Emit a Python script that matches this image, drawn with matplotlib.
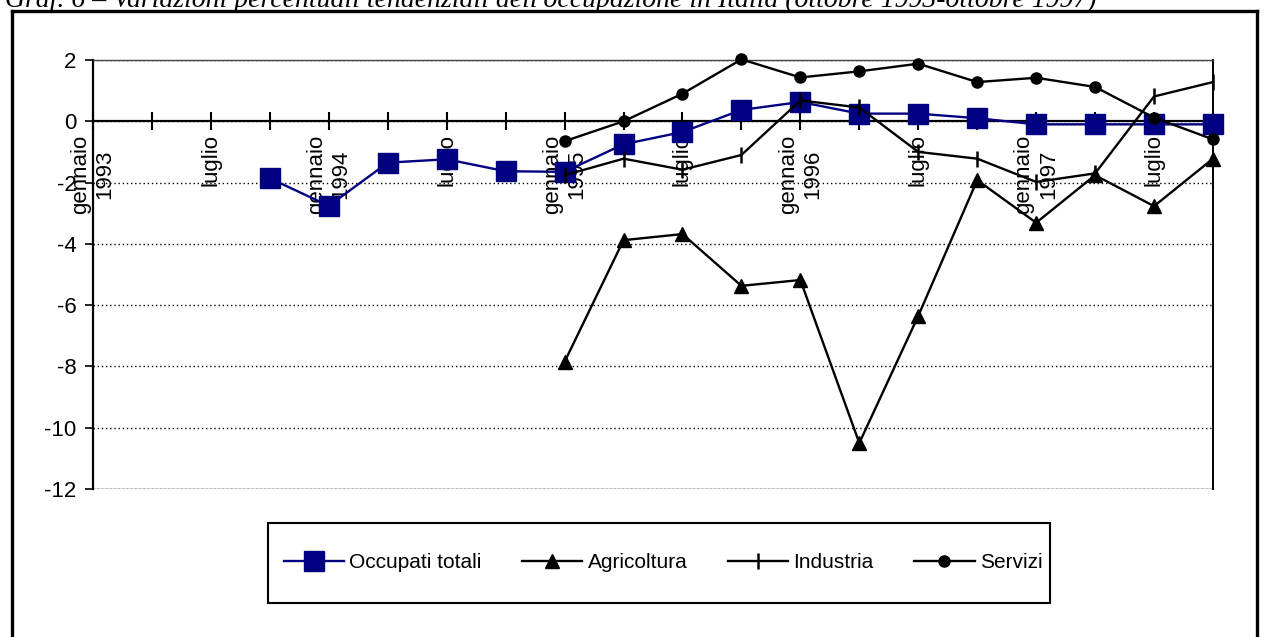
"""
Variazioni percentuali tendenziali dell'occupazione in Italia
(ottobre 1993 - ottobre 1997), dati trimestrali
"""

import numpy as np
import matplotlib
matplotlib.use("Agg")
import matplotlib.pyplot as plt
from matplotlib.lines import Line2D
from matplotlib.patches import Rectangle


# ── Dati ─────────────────────────────────────────────────────────────────────
# un valore per trimestre: gennaio 1993 ... ottobre 1997
trimestri = ["gennaio\n1993", "", "luglio", "",
             "gennaio\n1994", "", "luglio", "",
             "gennaio\n1995", "", "luglio", "",
             "gennaio\n1996", "", "luglio", "",
             "gennaio\n1997", "", "luglio", ""]

nan = np.nan
occupati_totali = [nan, nan, nan, -1.86, -2.76, -1.35, -1.24, -1.63,
                   -1.65, -0.75, -0.35, 0.37, 0.63, 0.25, 0.25, 0.1,
                   -0.1, -0.1, -0.1, -0.1]
agricoltura = [nan] * 8 + [-7.85, -3.88, -3.68, -5.37, -5.18, -10.5,
                           -6.35, -1.92, -3.31, -1.76, -2.77, -1.22]
industria = [nan] * 8 + [-1.76, -1.22, -1.58, -1.1, 0.68, 0.45,
                         -1.0, -1.22, -1.98, -1.7, 0.81, 1.28]
servizi = [nan] * 8 + [-0.65, 0.0, 0.9, 2.02, 1.43, 1.63,
                       1.88, 1.28, 1.42, 1.12, 0.12, -0.59]

y_ticks = [2, 0, -2, -4, -6, -8, -10, -12]

TITOLO = ("Graf. 6 \u2013 Variazioni percentuali tendenziali dell'occupazione "
          "in Italia (ottobre 1993-ottobre 1997)")

# ── Stile ────────────────────────────────────────────────────────────────────
plt.rcParams["font.family"] = ["Liberation Sans", "DejaVu Sans"]
NAVY = "#000080"
W, H = 1267, 637

fig = plt.figure(figsize=(W / 100, H / 100), dpi=100, facecolor="white")
ax = fig.add_axes([93 / W, 1 - 489 / H, (1213 - 93) / W, (489 - 60) / H])

x = np.arange(len(trimestri))

ax.plot(x, occupati_totali, color=NAVY, lw=1.7, marker="s", ms=15,
        mfc=NAVY, mec=NAVY, label="Occupati totali", zorder=3, clip_on=False)
ax.plot(x, agricoltura, color="black", lw=1.7, marker="^", ms=9.5,
        label="Agricoltura", zorder=3, clip_on=False)
ax.plot(x, industria, color="black", lw=1.7, marker="|", ms=12, mew=1.8,
        label="Industria", zorder=3, clip_on=False)
ax.plot(x, servizi, color="black", lw=1.7, marker="o", ms=8,
        label="Servizi", zorder=3, clip_on=False)

ax.set_xlim(0, len(trimestri) - 1)
ax.set_ylim(-12, 2)

# asse delle categorie sulla linea dello zero
ax.spines["bottom"].set_position(("data", 0))
ax.spines["bottom"].set_linewidth(1.6)
ax.spines["left"].set_linewidth(1.6)
ax.spines["right"].set_linewidth(1.4)
ax.spines["top"].set_color("#444444")
ax.spines["top"].set_linewidth(1.0)
ax.axhline(-12, color="#444444", lw=1.0, zorder=1)

ax.set_xticks(x)
ax.set_xticklabels(trimestri, rotation=90, fontsize=16,
                   multialignment="center")
ax.tick_params(axis="x", direction="inout", length=13, width=1.5, pad=3)

ax.set_yticks(y_ticks)
ax.set_yticklabels([str(v) for v in y_ticks], fontsize=16)
ax.tick_params(axis="y", direction="out", length=6, width=1.2, pad=6)

ax.yaxis.grid(True, linestyle=(0, (1, 2)), color="black", lw=1.0)
ax.set_axisbelow(True)

# ── Legenda ──────────────────────────────────────────────────────────────────
fig.patches.append(Rectangle((268 / W, 1 - 603 / H), (1050 - 268) / W,
                             80 / H, transform=fig.transFigure,
                             fill=False, edgecolor="black", lw=1.5))
handles, labels = ax.get_legend_handles_labels()
fig.legend(handles, labels, loc="center",
           bbox_to_anchor=(663 / W, 1 - 563 / H), ncol=4, frameon=False,
           fontsize=15, handlelength=2.9, handletextpad=0.25,
           columnspacing=1.94, markerscale=1.0)

# ── Cornice e titolo ─────────────────────────────────────────────────────────
for xs, ys in [((12, 12), (11, H + 5)), ((12, 1257), (11, 11)),
               ((1257, 1257), (11, H + 5))]:
    fig.add_artist(Line2D([v / W for v in xs], [1 - v / H for v in ys],
                          transform=fig.transFigure, color="black", lw=2.4))

fig.text(5 / W, 1 - 7 / H, TITOLO, fontsize=20, style="italic",
         family=["Liberation Serif", "DejaVu Serif"], va="baseline",
         ha="left")

plt.savefig("out.png", dpi=100, facecolor="white")
